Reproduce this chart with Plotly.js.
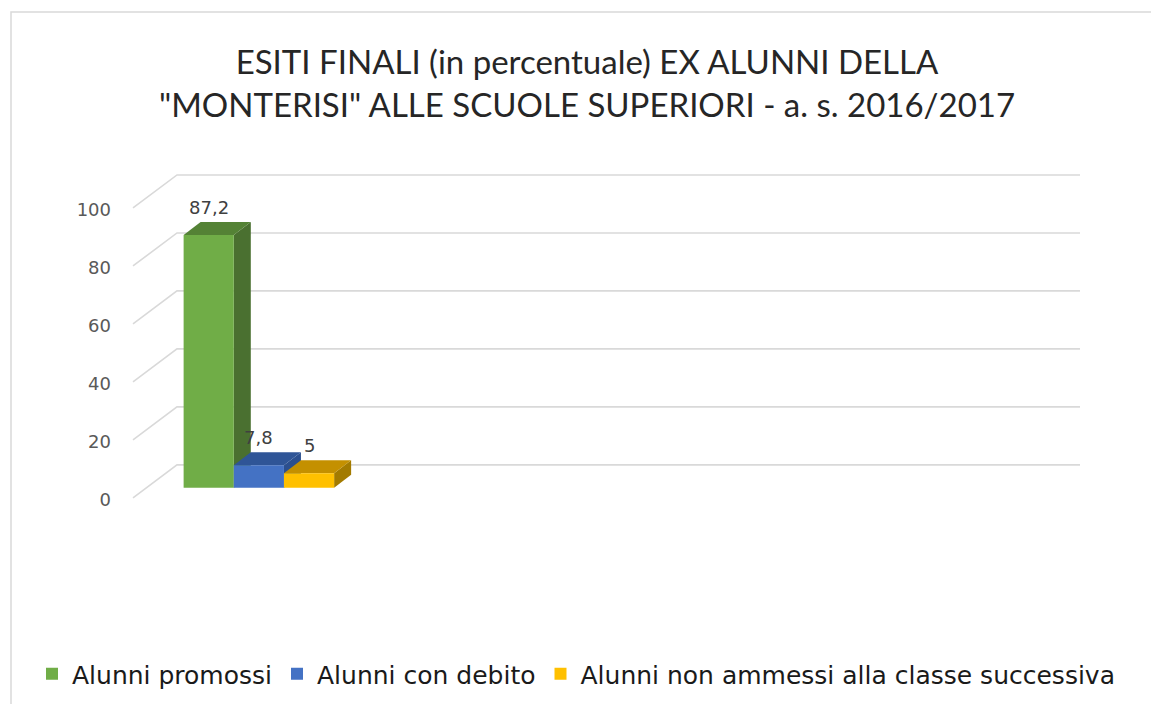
<!DOCTYPE html>
<html><head><meta charset="utf-8">
<script src="https://cdn.plot.ly/plotly-3.0.1.min.js"></script>
<style>html,body{margin:0;padding:0;background:#fff;}</style>
</head><body><div id="chart" style="width:1151px;height:704px;"></div>
<script>
// ---- data ----
const seriesNames = ["Alunni promossi", "Alunni con debito", "Alunni non ammessi alla classe successiva"];
const seriesValues = [87.2, 7.8, 5];
const categoryIndex = [0];
const yTickVals = [0, 20, 40, 60, 80, 100];
const yTickText = ["0", "20", "40", "60", "80", "100"];
const titleLines = ["ESITI FINALI (in percentuale) EX ALUNNI DELLA", "\"MONTERISI\" ALLE SCUOLE SUPERIORI - a. s. 2016/2017"];

// ---- styles ----
const frontColors = ["#70AD47", "#4472C4", "#FFC000"];
const topColors = ["#548235", "#2F5597", "#C49000"];
const sideColors = ["#4A7030", "#2B4F8F", "#A37B00"];
const gridColor = "#D9D9D9";

// ---- layout geometry ----
const W = 1151, H = 704;
const mL = 120, mR = 16, mT = 140, mB = 164;
const plotW = W - mL - mR, plotH = H - mT - mB;
const nCats = 4, bargap = 1 / 3;
const catPx = 225.75;                 // pixels per category unit
const xMin = -0.5 - 26 / catPx;
const xMax = xMin + plotW / catPx;
const yRange = [-18, 120];
const pxPerUnit = plotH / (yRange[1] - yRange[0]);
const depth = [17, 13];               // bar depth (px)
const wallOff = [31, 23];             // back wall offset from bar plane (px)
const frontOff = [-13, -10];          // front edge offset from bar plane (px)
const barW = (1 - bargap) / seriesNames.length;
const barPx = barW * catPx;
const wallPx = nCats * catPx;

const traces = seriesNames.map((name, i) => ({
  type: "bar", name: name, x: categoryIndex, y: [seriesValues[i]],
  marker: {color: frontColors[i], line: {width: 0}},
  hoverinfo: "none"
}));

const shapes = [];
// chart border
shapes.push({type: "rect", xref: "paper", yref: "paper", xsizemode: "pixel", ysizemode: "pixel",
  xanchor: 0, yanchor: 1, x0: 11 - mL, x1: W - mL + 40, y0: mT - 12, y1: -(H - mT + 40),
  line: {color: gridColor, width: 1.5}, layer: "below"});
// back wall gridlines + diagonals
yTickVals.forEach(v => {
  shapes.push({type: "path", xref: "x", yref: "y", xsizemode: "pixel", ysizemode: "pixel",
    xanchor: -0.5, yanchor: v,
    path: `M${frontOff[0]},${frontOff[1]} L${wallOff[0]},${wallOff[1]} L${wallOff[0] + wallPx},${wallOff[1]}`,
    line: {color: gridColor, width: 1.6}, layer: "below"});
});
// 3D faces of bars
seriesValues.forEach((v, i) => {
  const left = -(1 - bargap) / 2 + i * barW;
  const right = left + barW;
  const h = v * pxPerUnit;
  shapes.push({type: "path", xref: "x", yref: "y", xsizemode: "pixel", ysizemode: "pixel",
    xanchor: right, yanchor: 0,
    path: `M0,0 L0,${h} L${depth[0]},${h + depth[1]} L${depth[0]},${depth[1]} Z`,
    fillcolor: sideColors[i], line: {width: 0}, layer: "between"});
  shapes.push({type: "path", xref: "x", yref: "y", xsizemode: "pixel", ysizemode: "pixel",
    xanchor: left, yanchor: v,
    path: `M0,0 L${depth[0]},${depth[1]} L${barPx + depth[0]},${depth[1]} L${barPx},0 Z`,
    fillcolor: topColors[i], line: {width: 0}, layer: "between"});
});

const annotations = seriesValues.map((v, i) => ({
  xref: "x", yref: "y", x: -(1 - bargap) / 2 + (i + 0.5) * barW, y: v, yshift: 28,
  text: String(v).replace(".", ","), showarrow: false,
  font: {family: "DejaVu Sans", size: 18, color: "#404040"}
}));

const layout = {
  width: W, height: H,
  margin: {l: mL, r: mR, t: mT, b: mB, pad: 0, autoexpand: false},
  paper_bgcolor: "#fff", plot_bgcolor: "rgba(0,0,0,0)",
  barmode: "group", bargap: bargap, bargroupgap: 0,
  title: {text: titleLines.join("<br>"), xref: "container", yref: "container",
    x: 0.51, y: 1 - 74 / H, xanchor: "center", yanchor: "middle",
    font: {family: "Lato", size: 33, color: "#262626"}},
  xaxis: {range: [xMin, xMax], showgrid: false, zeroline: false, showline: false,
    showticklabels: false, ticks: ""},
  yaxis: {range: yRange, showgrid: false, zeroline: false, showline: false, ticks: "",
    tickmode: "array", tickvals: yTickVals, ticktext: yTickText,
    ticklabelshift: 12, ticklabelstandoff: 8,
    tickfont: {family: "DejaVu Sans", size: 18, color: "#595959"}},
  legend: {orientation: "h", xref: "paper", yref: "paper",
    x: (32 - mL) / plotW, y: -(651 - (H - mB)) / plotH, xanchor: "left", yanchor: "top",
    font: {family: "DejaVu Sans", size: 25, color: "#1a1a1a"}, traceorder: "normal"},
  shapes: shapes, annotations: annotations, showlegend: true
};

Plotly.newPlot("chart", traces, layout, {displayModeBar: false, staticPlot: true});
</script></body></html>
